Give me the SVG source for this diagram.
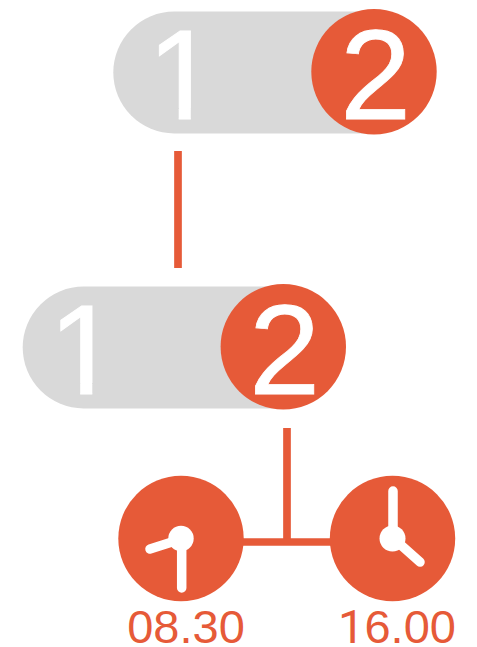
<svg xmlns="http://www.w3.org/2000/svg" width="477" height="647" viewBox="0 0 477 647">
<defs>
<clipPath id="noFootTop"><rect x="140" y="15" width="60" height="93"/><rect x="178.7" y="100" width="12.1" height="25"/></clipPath>
<clipPath id="noFootBottom"><rect x="41" y="290" width="60" height="93"/><rect x="80.2" y="375" width="12.1" height="25"/></clipPath>
</defs>
<style>
.pill{fill:#d9d9d9}.o{fill:#e65a38}
.d{font-family:"Liberation Sans",Arial,sans-serif;font-size:128px;fill:#fff;stroke:#fff;stroke-width:.8;text-anchor:middle}
.t{font-family:"Liberation Sans",Arial,sans-serif;font-size:47px;fill:#e65a38;text-anchor:middle}
.t1{font-family:Roboto,Arial,sans-serif}
.h{stroke:#fff;stroke-width:9.5;stroke-linecap:round;fill:none}
.c{stroke:#e65a38;stroke-width:7.7;fill:none}
</style>
<g id="connectors">
<path class="c" d="M178 151V268"/>
<path class="c" d="M287 428V542"/>
<path class="c" d="M243 542H331"/>
</g>
<g id="toggle-top">
<rect class="pill" x="113.3" y="11.6" width="322" height="121.8" rx="60.9"/>
<circle class="o" cx="374" cy="71.7" r="62.7"/>
<text class="d" x="182.5" y="119" clip-path="url(#noFootTop)">1</text>
<text class="d" x="375.5" y="119">2</text>
</g>
<g id="toggle-bottom">
<rect class="pill" x="22.7" y="286.6" width="322" height="121.8" rx="60.9"/>
<circle class="o" cx="283.3" cy="346.8" r="62.7"/>
<text class="d" x="84" y="394" clip-path="url(#noFootBottom)">1</text>
<text class="d" x="284.5" y="394">2</text>
</g>
<g id="clock-left">
<circle class="o" cx="181" cy="538.5" r="62.7"/>
<circle cx="181" cy="538.5" r="12.7" fill="#fff"/>
<path class="h" d="M181.7 538.5V588M172 542L150 549"/>
<text class="t" x="186" y="643">08.30</text>
</g>
<g id="clock-right">
<circle class="o" cx="392.5" cy="538.5" r="62.7"/>
<circle cx="392.5" cy="538.5" r="13" fill="#fff"/>
<path class="h" d="M393 538V491M393 538L420 562"/>
<text class="t" x="397" y="643"><tspan class="t1">1</tspan>6.00</text>
</g>
</svg>
